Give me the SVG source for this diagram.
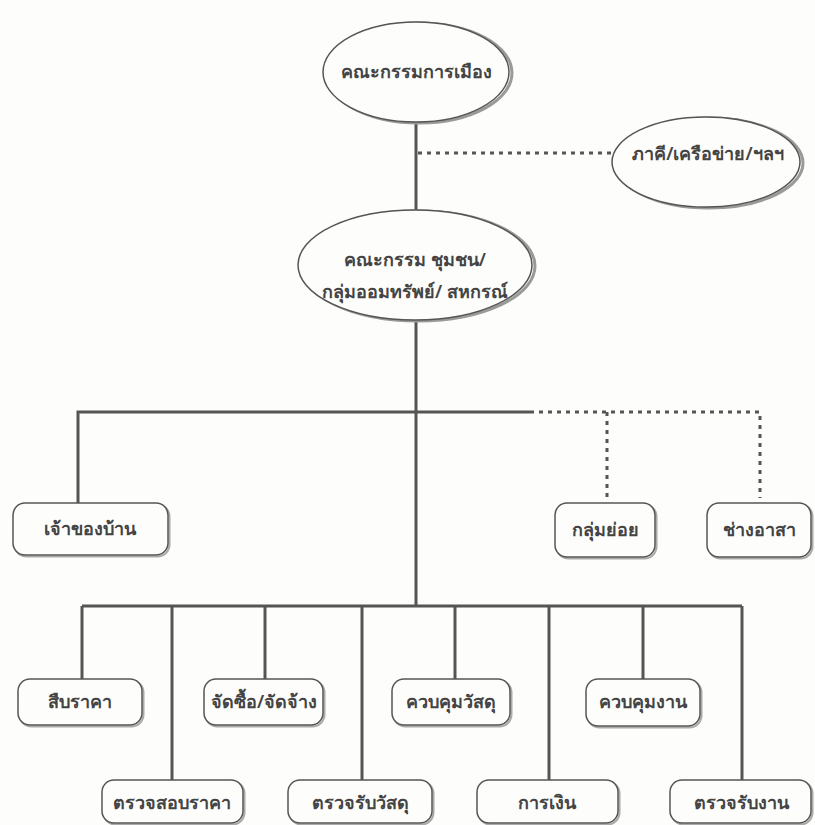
<svg xmlns="http://www.w3.org/2000/svg" width="815" height="825" viewBox="0 0 815 825">
<style>
.bg{fill:#fdfdfb}
.ell{fill:#fdfdfb;stroke:#555;stroke-width:1.5}
.esh{fill:none;stroke:#9a9a9a;stroke-width:3}
.box{fill:#fdfdfb;stroke:#555;stroke-width:1.5}
.bsh{fill:none;stroke:#aaa;stroke-width:2}
.solid{fill:none;stroke:#555;stroke-width:3}
.dot{fill:none;stroke:#555;stroke-width:3;stroke-dasharray:4,5}
text{font-family:"Noto Sans","DejaVu Sans","Liberation Sans",sans-serif;font-size:18px;font-weight:600;fill:#444;text-anchor:middle;dominant-baseline:central}
</style>
<rect class="bg" x="0" y="0" width="815" height="825"/>
<g id="connectors">
<line class="solid" x1="416" y1="122" x2="416" y2="212"/>
<line class="dot" x1="418" y1="153" x2="612" y2="153"/>
<line class="solid" x1="416" y1="320" x2="416" y2="606"/>
<polyline class="solid" points="78,503 78,412 530,412"/>
<polyline class="dot" points="530,412 760,412 760,498"/>
<line class="dot" x1="607" y1="412" x2="607" y2="498"/>
<line class="solid" x1="82" y1="606" x2="742" y2="606"/>
<line class="solid" x1="82" y1="606" x2="82" y2="679"/>
<line class="solid" x1="172" y1="606" x2="172" y2="780"/>
<line class="solid" x1="265" y1="606" x2="265" y2="679"/>
<line class="solid" x1="362" y1="606" x2="362" y2="780"/>
<line class="solid" x1="455" y1="606" x2="455" y2="679"/>
<line class="solid" x1="549" y1="606" x2="549" y2="780"/>
<line class="solid" x1="643" y1="606" x2="643" y2="679"/>
<line class="solid" x1="742" y1="606" x2="742" y2="780"/>
</g>
<g id="n-politics">
<ellipse class="esh" cx="419" cy="73" rx="93" ry="50"/>
<ellipse class="ell" cx="416" cy="72" rx="93" ry="50"/>
<text x="416" y="71">คณะกรรมการเมือง</text>
</g>
<g id="n-partner">
<ellipse class="esh" cx="709" cy="163" rx="94" ry="45"/>
<ellipse class="ell" cx="706" cy="162" rx="94" ry="45"/>
<text x="708" y="153">ภาคี/เครือข่าย/ฯลฯ</text>
</g>
<g id="n-committee">
<ellipse class="esh" cx="418" cy="266" rx="117" ry="55"/>
<ellipse class="ell" cx="415" cy="265" rx="117" ry="55"/>
<text x="415" y="259">คณะกรรม ชุมชน/</text>
<text x="415" y="291">กลุ่มออมทรัพย์/ สหกรณ์</text>
</g>
<g id="n-owner">
<rect class="bsh" x="14.5" y="504.5" width="155" height="52" rx="12"/>
<rect class="box" x="13" y="503" width="155" height="52" rx="12"/>
<text x="90" y="528">เจ้าของบ้าน</text>
</g>
<g id="n-subgroup">
<rect class="bsh" x="556.5" y="504.5" width="100" height="54" rx="12"/>
<rect class="box" x="555" y="503" width="100" height="54" rx="12"/>
<text x="605" y="529">กลุ่มย่อย</text>
</g>
<g id="n-volunteer">
<rect class="bsh" x="708.5" y="504.5" width="104" height="54" rx="12"/>
<rect class="box" x="707" y="503" width="104" height="54" rx="12"/>
<text x="759" y="529">ช่างอาสา</text>
</g>
<g id="n-price">
<rect class="bsh" x="19.5" y="680.5" width="124" height="46" rx="12"/>
<rect class="box" x="18" y="679" width="124" height="46" rx="12"/>
<text x="80" y="701">สืบราคา</text>
</g>
<g id="n-procure">
<rect class="bsh" x="205.5" y="680.5" width="119" height="46" rx="12"/>
<rect class="box" x="204" y="679" width="119" height="46" rx="12"/>
<text x="264" y="701">จัดซื้อ/จัดจ้าง</text>
</g>
<g id="n-material-ctl">
<rect class="bsh" x="393.5" y="680.5" width="118" height="46" rx="12"/>
<rect class="box" x="392" y="679" width="118" height="46" rx="12"/>
<text x="451" y="701">ควบคุมวัสดุ</text>
</g>
<g id="n-work-ctl">
<rect class="bsh" x="587.5" y="680.5" width="114" height="47" rx="12"/>
<rect class="box" x="586" y="679" width="114" height="47" rx="12"/>
<text x="643" y="701">ควบคุมงาน</text>
</g>
<g id="n-price-check">
<rect class="bsh" x="103.5" y="781.5" width="141" height="43" rx="12"/>
<rect class="box" x="102" y="780" width="141" height="43" rx="12"/>
<text x="172" y="802">ตรวจสอบราคา</text>
</g>
<g id="n-material-recv">
<rect class="bsh" x="289.5" y="781.5" width="144" height="43" rx="12"/>
<rect class="box" x="288" y="780" width="144" height="43" rx="12"/>
<text x="360" y="802">ตรวจรับวัสดุ</text>
</g>
<g id="n-finance">
<rect class="bsh" x="478.5" y="781.5" width="141" height="43" rx="12"/>
<rect class="box" x="477" y="780" width="141" height="43" rx="12"/>
<text x="547" y="802">การเงิน</text>
</g>
<g id="n-work-recv">
<rect class="bsh" x="671.5" y="781.5" width="141" height="43" rx="12"/>
<rect class="box" x="670" y="780" width="141" height="43" rx="12"/>
<text x="741" y="802">ตรวจรับงาน</text>
</g>
</svg>
